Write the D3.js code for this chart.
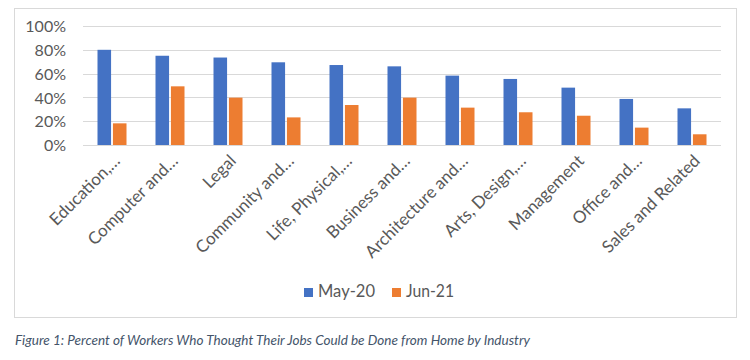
<!DOCTYPE html>
<html><head><meta charset="utf-8">
<script src="https://cdn.jsdelivr.net/npm/d3@7"></script>
<style>
body{margin:0;background:#fff;}
svg{display:block;}
</style></head>
<body>
<svg id="chart" width="750" height="360"></svg>
<script>
const categories = ["Education,…","Computer and…","Legal","Community and…","Life, Physical,…","Business and…","Architecture and…","Arts, Design,…","Management","Office and…","Sales and Related"];
const may20 = [0.80, 0.75, 0.735, 0.695, 0.672, 0.661, 0.583, 0.555, 0.482, 0.387, 0.308];
const jun21 = [0.182, 0.493, 0.398, 0.232, 0.336, 0.398, 0.314, 0.275, 0.246, 0.146, 0.09];
const seriesNames = ["May-20","Jun-21"];
const colors = ["#4472c4","#ed7d31"];
const yTicks = [0,0.2,0.4,0.6,0.8,1.0];
const caption = "Figure 1: Percent of Workers Who Thought Their Jobs Could be Done from Home by Industry";

const svg = d3.select("#chart");
const font = "Lato, 'Open Sans', sans-serif";

// frame
svg.append("rect").attr("x",14.5).attr("y",8.5).attr("width",722).attr("height",309)
  .attr("fill","#fff").attr("stroke","#d9d9d9").attr("stroke-width",1);

const x = d3.scaleBand().domain(categories).range([83,721]).paddingInner(0).paddingOuter(0);
const y = d3.scaleLinear().domain([0,1]).range([145,26]);
const xs = d3.scaleBand().domain(seriesNames).range([14.5,43.5]).paddingInner(0.12);

// gridlines
svg.append("g").selectAll("line").data(yTicks).join("line")
  .attr("x1",83).attr("x2",721).attr("y1",d=>Math.round(y(d))+0.5).attr("y2",d=>Math.round(y(d))+0.5)
  .attr("stroke","#d9d9d9").attr("stroke-width",1);

// y axis labels
const yAxis = d3.axisLeft(y).tickValues(yTicks).tickFormat(d3.format(".0%")).tickSize(0).tickPadding(0);
const gy = svg.append("g").attr("transform","translate(66,0)").call(yAxis);
gy.select(".domain").remove();
gy.selectAll("text").attr("font-family",font).attr("font-size",16).attr("fill","#595959").attr("dy","0.36em");

// bars
const data = [may20, jun21];
data.forEach((vals,si)=>{
  svg.append("g").selectAll("rect").data(vals).join("rect")
    .attr("x",(d,i)=>x(categories[i]) + xs(seriesNames[si]))
    .attr("width",xs.bandwidth())
    .attr("y",d=>y(d))
    .attr("height",d=>y(0)-y(d))
    .attr("fill",colors[si]);
});

// x axis labels
const xAxis = d3.axisBottom(x).tickSize(0).tickPadding(0);
const gx = svg.append("g").attr("transform","translate(0,145)").call(xAxis);
gx.select(".domain").remove();
gx.selectAll("text")
  .attr("font-family",font).attr("font-size",17).attr("fill","#595959")
  .attr("text-anchor","end").attr("dy","0")
  .attr("transform","translate(9,17) rotate(-45)");

// legend
const legend = svg.append("g");
const legX = [304, 392];
const legW = [57, 48];
seriesNames.forEach((n,i)=>{
  legend.append("rect").attr("x",legX[i]).attr("y",288).attr("width",9).attr("height",9).attr("fill",colors[i]);
  legend.append("text").attr("x",legX[i]+14).attr("y",297).text(n)
    .attr("textLength",legW[i]).attr("lengthAdjust","spacingAndGlyphs")
    .attr("font-family",font).attr("font-size",17).attr("fill","#595959");
});

// caption
svg.append("text").attr("x",15).attr("y",345).text(caption)
  .attr("textLength",515).attr("lengthAdjust","spacingAndGlyphs")
  .attr("font-family",font).attr("font-style","italic").attr("font-size",13).attr("fill","#44546a");
</script>
</body></html>
